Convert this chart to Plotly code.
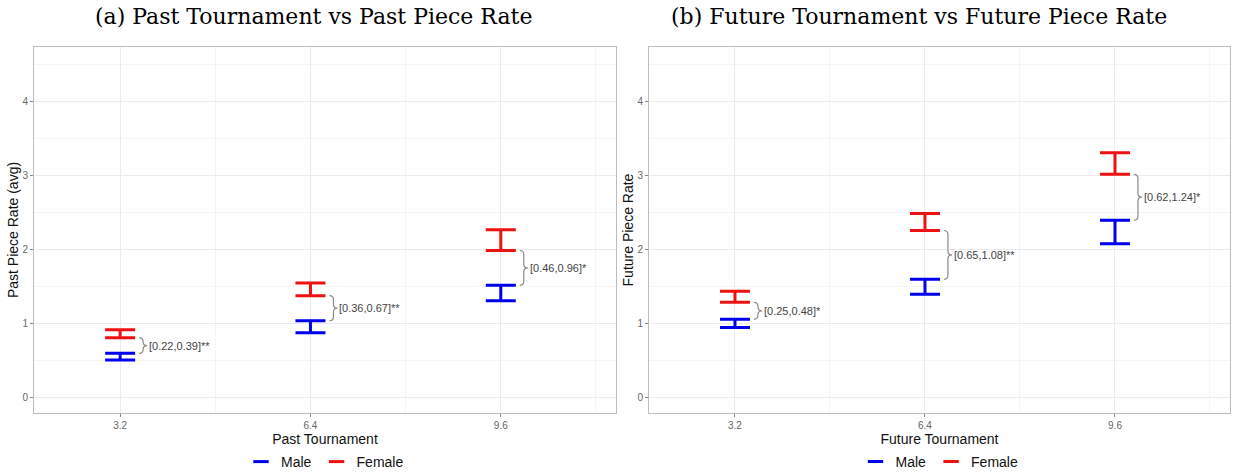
import plotly.graph_objects as go

# ---------------- data ----------------
tournament = [3.2, 6.4, 9.6]

past_female_lo = [0.80, 1.37, 1.98]
past_female_hi = [0.91, 1.54, 2.26]
past_male_lo = [0.50, 0.87, 1.30]
past_male_hi = [0.59, 1.03, 1.51]
past_labels = ["[0.22,0.39]**", "[0.36,0.67]**", "[0.46,0.96]*"]

future_female_lo = [1.28, 2.25, 3.01]
future_female_hi = [1.43, 2.48, 3.30]
future_male_lo = [0.94, 1.39, 2.07]
future_male_hi = [1.05, 1.59, 2.39]
future_labels = ["[0.25,0.48]*", "[0.65,1.08]**", "[0.62,1.24]*"]

x_ticks = [3.2, 6.4, 9.6]
y_ticks = [0, 1, 2, 3, 4]

# ---------------- layout constants ----------------
OFF = 0  # page margin removed via post_script
W, H = 1233 - OFF, 475 - OFF


def px_to_paper_x(px):
    return (px - OFF) / W


def px_to_paper_y(py):
    return 1 - (py - OFF) / H


X_RANGE = [1.752, 11.537]
Y_RANGE = [-0.216, 4.73]
left_dom = [px_to_paper_x(34), px_to_paper_x(616)]
right_dom = [px_to_paper_x(649), px_to_paper_x(1230)]
y_dom = [px_to_paper_y(413), px_to_paper_y(47)]

MALE = "#0000ee"
FEMALE = "#ee1111"

fig = go.Figure()

panel_px_w = (left_dom[1] - left_dom[0]) * W
px_x = (X_RANGE[1] - X_RANGE[0]) / panel_px_w          # data units per px (x)
px_y = (Y_RANGE[1] - Y_RANGE[0]) / ((y_dom[1] - y_dom[0]) * H)  # per px (y)

CAP = 15  # half width of caps in px


def add_panel(xa, ya, f_lo, f_hi, m_lo, m_hi, labels, legend):
    for name, lo, hi, col in [("Male", m_lo, m_hi, MALE), ("Female", f_lo, f_hi, FEMALE)]:
        mid = [(a + b) / 2 for a, b in zip(lo, hi)]
        fig.add_trace(go.Scatter(
            x=tournament, y=mid, mode="markers", xaxis=xa, yaxis=ya,
            marker=dict(color="rgba(0,0,0,0)", size=1),
            error_y=dict(type="data", symmetric=False,
                         array=[h - m for h, m in zip(hi, mid)],
                         arrayminus=[m - l for m, l in zip(mid, lo)],
                         color=col, thickness=3, width=CAP),
            showlegend=False, hoverinfo="skip"))
        fig.add_trace(go.Scatter(
            x=[None], y=[None], mode="markers", xaxis=xa, yaxis=ya, name=name,
            marker=dict(symbol="line-ew", size=11, line=dict(color=col, width=3)),
            legend=legend, showlegend=True))
    # braces + labels
    for x, ytop, ybot, lab in zip(tournament, f_lo, m_hi, labels):
        x0 = x + (CAP + 4) * px_x
        w = 8 * px_x
        xm = x0 + w / 2
        xb = x0 + w
        ym = (ytop + ybot) / 2
        r = min(4 * px_y, (ytop - ybot) / 4)
        path = (f"M {x0},{ytop} Q {xm},{ytop} {xm},{ytop - r} "
                f"L {xm},{ym + r} Q {xm},{ym} {xb},{ym} "
                f"Q {xm},{ym} {xm},{ym - r} L {xm},{ybot + r} "
                f"Q {xm},{ybot} {x0},{ybot}")
        fig.add_shape(type="path", path=path, xref=xa, yref=ya,
                      line=dict(color="#8a8a8a", width=1.2))
        fig.add_annotation(x=xb, y=ym, xref=xa, yref=ya, text=lab, showarrow=False,
                           xanchor="left", yanchor="middle", xshift=0,
                           font=dict(size=11, color="#444444", family="Liberation Sans"))


add_panel("x", "y", past_female_lo, past_female_hi, past_male_lo, past_male_hi,
          past_labels, "legend")
add_panel("x2", "y2", future_female_lo, future_female_hi, future_male_lo, future_male_hi,
          future_labels, "legend2")

axis_common = dict(
    showline=True, mirror=True, linecolor="#bdbdbd", linewidth=1,
    showgrid=True, gridcolor="#ebebeb", gridwidth=1, zeroline=False,
    ticks="outside", ticklen=3, tickcolor="#888888", automargin=False,
    tickfont=dict(size=10, color="#666666", family="Liberation Sans"),
)

xaxis_common = dict(axis_common, range=X_RANGE, tickvals=x_ticks,
                    ticktext=[str(v) for v in x_ticks],
                    minor=dict(dtick=1.6, tick0=0, showgrid=True, gridcolor="#f5f5f5", ticks=""))
yaxis_common = dict(axis_common, range=Y_RANGE, tickvals=y_ticks,
                    minor=dict(dtick=0.5, tick0=0, showgrid=True, gridcolor="#f5f5f5", ticks=""))

title_font = dict(size=14, color="#111111", family="Liberation Sans")
legend_font = dict(size=14, family="Liberation Sans", color="#111")

fig.update_layout(
    width=W, height=H, margin=dict(l=0, r=0, t=0, b=0, autoexpand=False),
    paper_bgcolor="white", plot_bgcolor="white",
    xaxis=dict(xaxis_common, domain=left_dom, anchor="y",
               title=dict(text="Past Tournament", font=title_font, standoff=0)),
    yaxis=dict(yaxis_common, domain=y_dom, anchor="x",
               title=dict(text="Past Piece Rate (avg)", font=title_font, standoff=0)),
    xaxis2=dict(xaxis_common, domain=right_dom, anchor="y2",
                title=dict(text="Future Tournament", font=title_font, standoff=0)),
    yaxis2=dict(yaxis_common, domain=y_dom, anchor="x2",
                title=dict(text="Future Piece Rate", font=title_font, standoff=0)),
    legend=dict(orientation="h", x=(left_dom[0] + left_dom[1]) / 2, xanchor="center",
                y=px_to_paper_y(462), yanchor="middle", font=legend_font,
                itemwidth=30, tracegroupgap=0, bgcolor="rgba(0,0,0,0)"),
    legend2=dict(orientation="h", x=(right_dom[0] + right_dom[1]) / 2, xanchor="center",
                 y=px_to_paper_y(462), yanchor="middle", font=legend_font,
                 itemwidth=30, tracegroupgap=0, bgcolor="rgba(0,0,0,0)"),
    showlegend=True,
)

for txt, xc in [("(a) Past Tournament vs Past Piece Rate", 313),
                ("(b) Future Tournament vs Future Piece Rate", 919)]:
    fig.add_annotation(x=px_to_paper_x(xc), y=px_to_paper_y(17), xref="paper", yref="paper",
                       text=txt, showarrow=False, xanchor="center", yanchor="middle",
                       font=dict(size=22, color="#000000", family="DejaVu Serif"))

fig.write_html("out.html", config={"displayModeBar": False},
               post_script="document.body.style.margin='0';document.body.style.padding='0';")
